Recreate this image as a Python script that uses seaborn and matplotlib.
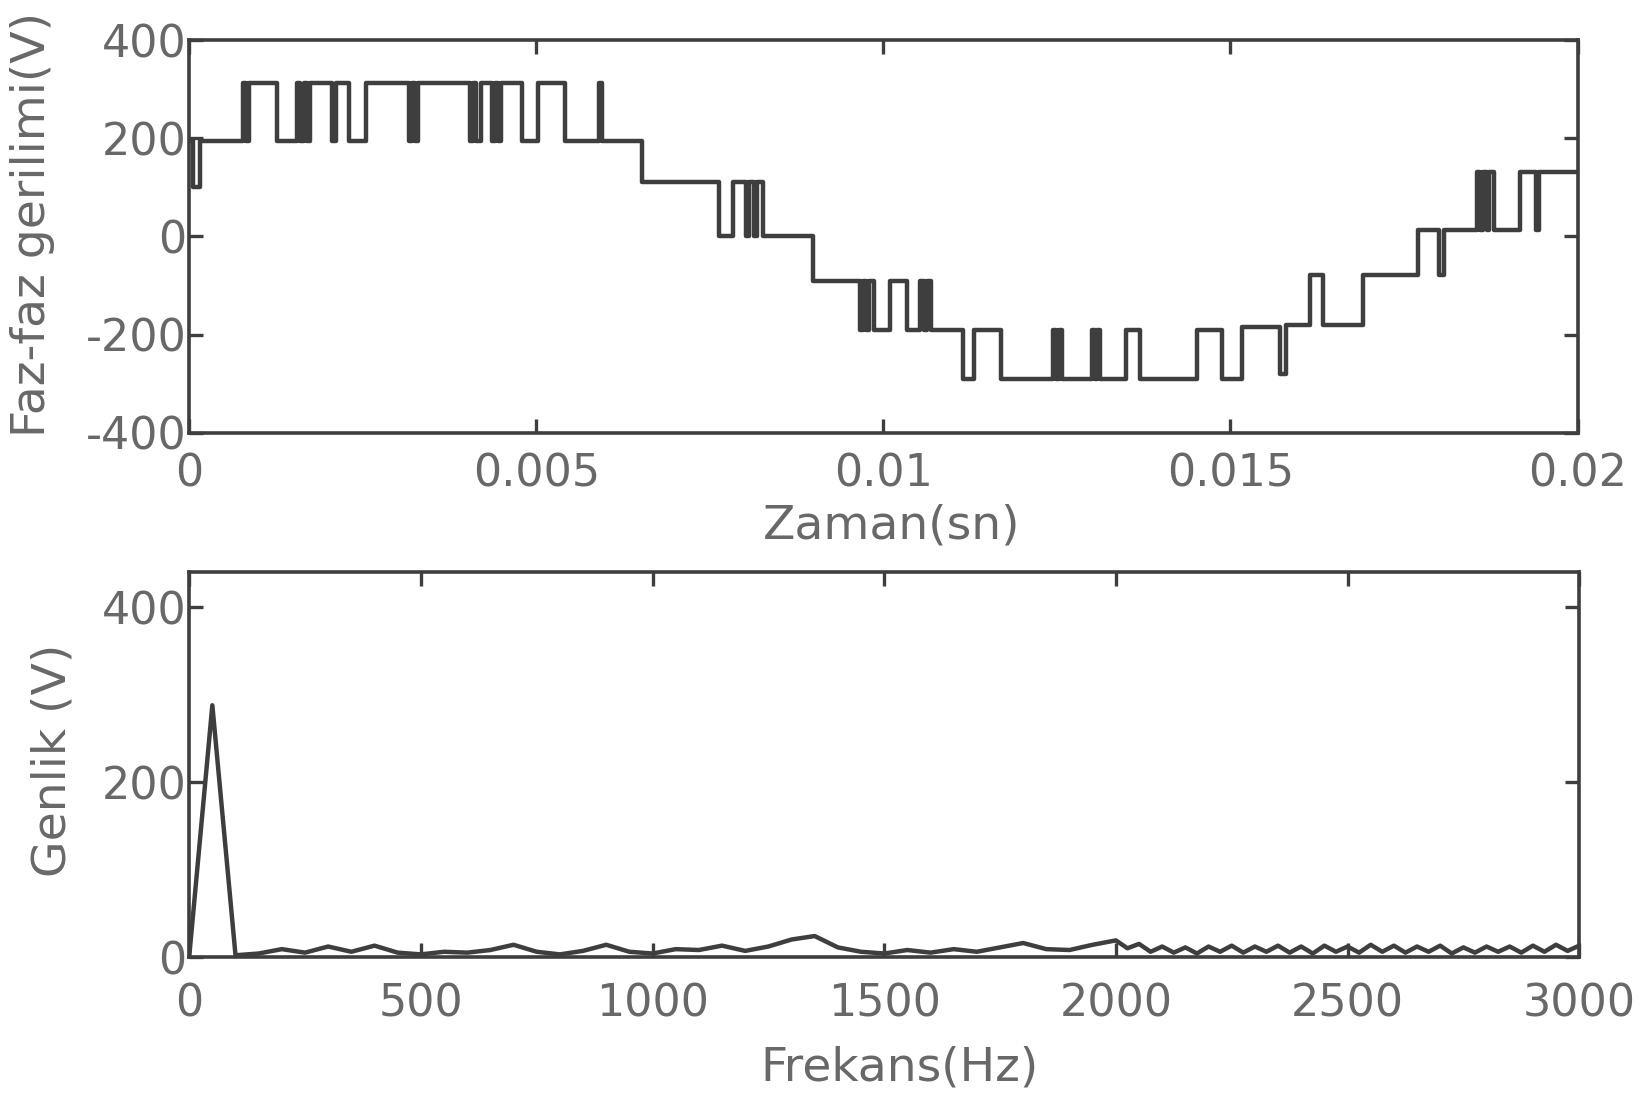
import numpy as np
import pandas as pd
import seaborn as sns
import matplotlib.pyplot as plt

# top panel: line-to-line voltage, switching instants (ms) and level held after each
switch_ms = [0.00, 0.05, 0.15, 0.78, 0.82, 0.86, 1.26, 1.55, 1.60, 1.65, 1.70, 1.74,
             2.06, 2.12, 2.30, 2.55, 3.17, 3.21, 3.26, 3.30, 4.04, 4.09, 4.13, 4.21,
             4.36, 4.41, 4.45, 4.49, 4.79, 5.03, 5.41, 5.90, 5.94, 6.53,
             7.63, 7.83, 8.02, 8.07, 8.13, 8.18, 8.26, 8.98,
             9.66, 9.70, 9.75, 9.80, 9.86, 10.10, 10.34, 10.53, 10.58, 10.63, 10.68,
             11.14, 11.30, 11.70, 12.45, 12.49, 12.53, 12.58, 13.00, 13.05, 13.08, 13.12,
             13.50, 13.70, 14.52, 14.88, 15.17, 15.72, 15.80, 16.15, 16.33, 16.91,
             17.70, 18.00, 18.07, 18.55, 18.60, 18.64, 18.69, 18.73, 18.80, 19.17,
             19.40, 19.45, 20.00]
level_v = [195, 100, 195, 313, 195, 313, 195, 313, 195, 313, 195, 313,
           195, 313, 195, 313, 195, 313, 195, 313, 195, 313, 195, 313,
           195, 313, 195, 313, 195, 313, 195, 313, 195, 112,
           0, 112, 0, 112, 0, 112, 0, -91,
           -191, -91, -191, -91, -191, -91, -191, -91, -191, -91, -191,
           -290, -191, -290, -191, -290, -191, -290, -191, -290, -191, -290,
           -191, -290, -191, -290, -185, -280, -180, -78, -180, -78,
           13, -78, 13, 132, 13, 132, 13, 132, 13, 132,
           13, 132, 132]

# bottom panel: amplitude spectrum
freq_lo = list(range(0, 2001, 50))
amp_lo = [0, 288, 2, 4, 9, 5, 12, 6, 13, 5, 3, 6, 5, 8, 14, 6, 3, 7, 14, 6,
          4, 9, 8, 13, 7, 12, 20, 24, 11, 6, 4, 8, 5, 9, 6, 11, 16, 9, 8, 14, 19]
freq_hi = list(range(2025, 3001, 25))
amp_hi = [10, 15, 6, 12, 5, 11, 4, 12, 6, 13, 5, 12, 6, 13, 5, 12, 4, 13, 6, 12,
          5, 14, 6, 13, 5, 12, 6, 13, 4, 11, 5, 12, 6, 12, 5, 13, 6, 14, 7, 13]

t_ticks = [0, 0.005, 0.01, 0.015, 0.02]
t_labels = ["0", "0.005", "0.01", "0.015", "0.02"]
v_ticks = [-400, -200, 0, 200, 400]
v_labels = ["-400", "-200", "0", "200", "400"]
f_ticks = [0, 500, 1000, 1500, 2000, 2500, 3000]
f_labels = ["0", "500", "1000", "1500", "2000", "2500", "3000"]
a_ticks = [0, 200, 400]
a_labels = ["0", "200", "400"]

sns.set_style("ticks")
plt.rcParams["font.family"] = ["DejaVu Sans"]

ink = "#3e3e3e"
txt = "#686868"

fig = plt.figure(figsize=(16.45, 11.18), dpi=100)
ax1 = fig.add_axes([0.115, 0.613, 0.844, 0.351])
ax2 = fig.add_axes([0.115, 0.144, 0.845, 0.344])

wave = pd.DataFrame({"t": np.array(switch_ms) / 1000.0, "v": level_v})
sns.lineplot(data=wave, x="t", y="v", ax=ax1, drawstyle="steps-post",
             color=ink, linewidth=3.2, estimator=None, sort=False)

spec = pd.DataFrame({"f": freq_lo + freq_hi, "a": amp_lo + amp_hi})
sns.lineplot(data=spec, x="f", y="a", ax=ax2, color=ink, linewidth=3.2,
             estimator=None, sort=False)

ax1.set_xlim(0, 0.02)
ax1.set_ylim(-400, 400)
ax1.set_xticks(t_ticks)
ax1.set_xticklabels(t_labels)
ax1.set_yticks(v_ticks)
ax1.set_yticklabels(v_labels)

ax2.set_xlim(0, 3000)
ax2.set_ylim(0, 440)
ax2.set_xticks(f_ticks)
ax2.set_xticklabels(f_labels)
ax2.set_yticks(a_ticks)
ax2.set_yticklabels(a_labels)

for ax, xpad in ((ax1, 14), (ax2, 18)):
    for s in ax.spines.values():
        s.set_visible(True)
        s.set_color(ink)
        s.set_linewidth(2.6)
    ax.tick_params(direction="in", top=True, right=True, length=10, width=2.4,
                   color=ink, labelsize=32, labelcolor=txt)
    ax.tick_params(axis="x", pad=xpad)
    ax.tick_params(axis="y", pad=2)

ax1.set_xlabel("Zaman(sn)", fontsize=34, color=txt)
ax1.set_ylabel("Faz-faz gerilimi(V)", fontsize=34, color=txt)
ax1.xaxis.set_label_coords(0.506, -0.18)
ax1.yaxis.set_label_coords(-0.097, 0.53)

ax2.set_xlabel("Frekans(Hz)", fontsize=34, color=txt)
ax2.set_ylabel("Genlik (V)", fontsize=34, color=txt)
ax2.xaxis.set_label_coords(0.511, -0.23)
ax2.yaxis.set_label_coords(-0.082, 0.51)

fig.savefig("out.png", dpi=100, facecolor="white")
